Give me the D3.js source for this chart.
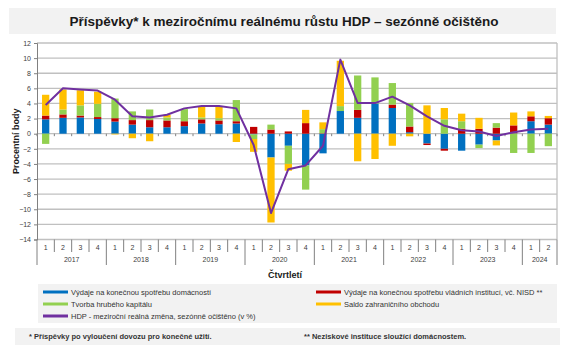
<!DOCTYPE html>
<html>
<head>
<meta charset="utf-8">
<script src="https://cdn.jsdelivr.net/npm/d3@7/dist/d3.min.js"></script>
<style>
  html, body { margin: 0; padding: 0; background: #fff; }
  svg { display: block; font-family: "Liberation Sans", Arial, sans-serif; }
</style>
</head>
<body>
<svg id="chart" width="565" height="346"></svg>
<script>
// Quarterly contributions (percentage points) to year-on-year real GDP growth, 2017Q1–2024Q2
const years = ["2017", "2018", "2019", "2020", "2021", "2022", "2023", "2024"];
const quarterLabels = ["1", "2", "3", "4"];

const household = [
  1.9, 2.1, 2.15, 1.95,
  1.6, 1.2, 0.85, 0.85,
  1.0, 1.35, 1.25, 1.35,
  -0.1, -3.15, -1.6, -4.2,
  -2.6, 3.0, 2.1, 4.0,
  3.4, 0.2, -1.3, -2.0,
  -2.25, -1.45, -0.9, 0.05,
  1.65, 1.2
];
const government = [
  0.5, 0.45, 0.25, 0.25,
  0.45, 0.6, 0.95, 0.9,
  0.65, 0.55, 0.5, 0.3,
  0.9, 0.55, 0.3, 1.4,
  0.05, 0.0, 1.05, 0.0,
  0.45, 0.75, -0.2, -0.25,
  0.65, 0.65, 0.8, 1.05,
  0.65, 0.85
];
const capital = [
  -1.35, 0.65, 1.35, 1.75,
  2.6, 1.15, 1.4, 0.4,
  1.6, 0.25, 0.3, 2.8,
  -0.6, 0.65, -2.4, -3.2,
  0.55, 0.65, 4.55, 3.45,
  2.85, 3.1, 0.0, 1.9,
  1.0, -0.45, 0.6, -2.55,
  -2.55, -1.65
];
const netExports = [
  2.75, 2.65, 2.0, 1.6,
  -0.1, -0.6, -1.0, 0.35,
  0.0, 1.4, 1.5, -1.1,
  -1.7, -8.6, -0.9, 1.75,
  0.9, 6.0, -3.65, -3.35,
  -1.6, -0.35, 3.75, 1.5,
  1.0, 1.45, -0.65, 1.7,
  0.65, 0.3
];
const gdp = [
  3.8, 6.0, 5.85, 5.7,
  4.5, 2.3, 2.15, 2.5,
  3.35, 3.65, 3.65, 3.35,
  -1.5, -10.5, -4.7, -4.2,
  -1.6, 9.8, 4.05, 4.05,
  4.9, 3.75, 2.3, 1.05,
  0.45, 0.3, -0.3, 0.2,
  0.55, 0.65
];
const yTicks = [12, 10, 8, 6, 4, 2, 0, -2, -4, -6, -8, -10, -12, -14];

const seriesNames = {
  household: "Výdaje na konečnou spotřebu domácností",
  government: "Výdaje na konečnou spotřebu vládních institucí, vč. NISD **",
  capital: "Tvorba hrubého kapitálu",
  netExports: "Saldo zahraničního obchodu",
  gdp: "HDP - meziroční reálná změna, sezónně očištěno (v %)"
};
const colors = {
  household: "#0070c0",
  government: "#c00000",
  capital: "#92d050",
  netExports: "#ffc000",
  gdp: "#7030a0"
};

// Build row table for stacking
const keys = ["household", "government", "capital", "netExports"];
const rows = gdp.map((g, i) => ({
  id: i,
  year: years[Math.floor(i / 4)],
  q: quarterLabels[i % 4],
  household: household[i],
  government: government[i],
  capital: capital[i],
  netExports: netExports[i],
  gdp: g
}));

const svg = d3.select("#chart");
const plot = { left: 37, right: 557, top: 43, bottom: 239.5 };

// Title band
svg.append("rect").attr("x", 9).attr("y", 8).attr("width", 547).attr("height", 26).attr("fill", "#f2f2f2");
svg.append("text").attr("x", 284).attr("y", 25.5).attr("text-anchor", "middle")
  .attr("font-size", 13.5).attr("font-weight", "bold").attr("fill", "#1a1a1a")
  .text("Příspěvky* k meziročnímu reálnému růstu HDP – sezónně očištěno");

const x = d3.scaleBand().domain(rows.map(d => d.id))
  .range([plot.left, plot.right]).paddingInner(0.58).paddingOuter(0.29);
const y = d3.scaleLinear().domain([-14, 12]).range([plot.bottom, plot.top]);
const step = x.step();

// Gridlines
svg.append("g").selectAll("line").data(yTicks).join("line")
  .attr("x1", plot.left).attr("x2", plot.right)
  .attr("y1", d => y(d)).attr("y2", d => y(d))
  .attr("stroke", "#c0c0c0").attr("stroke-width", 1.3);
// right border
svg.append("line").attr("x1", plot.right).attr("x2", plot.right)
  .attr("y1", plot.top).attr("y2", plot.bottom)
  .attr("stroke", "#c0c0c0").attr("stroke-width", 1.3);

// Y axis
const yAxis = svg.append("g").attr("transform", `translate(${plot.left},0)`)
  .call(d3.axisLeft(y).tickValues(yTicks).tickSize(3).tickPadding(3));
yAxis.select(".domain").attr("stroke", "#808080");
yAxis.selectAll(".tick line").attr("stroke", "#808080");
yAxis.selectAll(".tick text").attr("font-size", 7).attr("fill", "#404040")
  .attr("font-family", "Liberation Sans, Arial, sans-serif");

svg.append("text")
  .attr("transform", `translate(19,${(plot.top + plot.bottom) / 2}) rotate(-90)`)
  .attr("text-anchor", "middle").attr("font-size", 9).attr("font-weight", "bold")
  .attr("fill", "#1a1a1a").text("Procentní body");

// Small ticks along the zero line at category boundaries
svg.append("g").selectAll("line").data(d3.range(0, rows.length + 1)).join("line")
  .attr("x1", i => plot.left + i * step).attr("x2", i => plot.left + i * step)
  .attr("y1", y(0)).attr("y2", y(0) + 2.5)
  .attr("stroke", "#808080").attr("stroke-width", 1);

// Stacked bars (positive values stack upward, negative downward)
const stacked = d3.stack().keys(keys).offset(d3.stackOffsetDiverging)(rows);
svg.append("g").selectAll("g").data(stacked).join("g")
  .attr("fill", s => colors[s.key])
  .selectAll("rect").data(s => s).join("rect")
  .attr("x", d => x(d.data.id))
  .attr("width", x.bandwidth())
  .attr("y", d => y(Math.max(d[0], d[1])))
  .attr("height", d => Math.abs(y(d[0]) - y(d[1])));

// GDP line
const line = d3.line()
  .x(d => x(d.id) + x.bandwidth() / 2)
  .y(d => y(d.gdp));
svg.append("path").datum(rows).attr("d", line)
  .attr("fill", "none").attr("stroke", colors.gdp).attr("stroke-width", 2)
  .attr("stroke-linejoin", "round");

// Category axis: quarters and years
const axisG = svg.append("g");
axisG.selectAll("line.q").data(d3.range(0, rows.length + 1)).join("line")
  .attr("class", "q")
  .attr("x1", i => plot.left + i * step).attr("x2", i => plot.left + i * step)
  .attr("y1", plot.bottom)
  .attr("y2", i => (i % 4 === 0 || i === rows.length) ? 265 : 252)
  .attr("stroke", "#808080").attr("stroke-width", 1);
axisG.selectAll("text.q").data(rows).join("text")
  .attr("class", "q")
  .attr("x", d => x(d.id) + x.bandwidth() / 2).attr("y", 249.5)
  .attr("text-anchor", "middle").attr("font-size", 7).attr("fill", "#404040")
  .text(d => d.q);
axisG.selectAll("text.y").data(years).join("text")
  .attr("class", "y")
  .attr("x", (yr, k) => {
    const first = k * 4;
    const last = Math.min(first + 3, rows.length - 1);
    return (plot.left + first * step + plot.left + (last + 1) * step) / 2;
  })
  .attr("y", 262).attr("text-anchor", "middle").attr("font-size", 7).attr("fill", "#404040")
  .text(d => d);

svg.append("text").attr("x", 285).attr("y", 278).attr("text-anchor", "middle")
  .attr("font-size", 9).attr("font-weight", "bold").attr("fill", "#1a1a1a").text("Čtvrtletí");

// Legend
svg.append("rect").attr("x", 38).attr("y", 284).attr("width", 519).attr("height", 39).attr("fill", "#f2f2f2");
const legendItems = [
  { key: "household", x: 43, y: 292 },
  { key: "government", x: 316, y: 292 },
  { key: "capital", x: 43, y: 304 },
  { key: "netExports", x: 316, y: 304 },
  { key: "gdp", x: 43, y: 316 }
];
const lg = svg.append("g").selectAll("g").data(legendItems).join("g")
  .attr("transform", d => `translate(${d.x},${d.y})`);
lg.append("rect").attr("x", 0).attr("y", -1.5).attr("width", 25).attr("height", 3)
  .attr("fill", d => colors[d.key]);
lg.append("text").attr("x", 28).attr("y", 2.6).attr("font-size", 7.5).attr("fill", "#333")
  .text(d => seriesNames[d.key]);

// Footnotes
svg.append("rect").attr("x", 15).attr("y", 328).attr("width", 545).attr("height", 17).attr("fill", "#f2f2f2");
svg.append("text").attr("x", 29).attr("y", 339).attr("font-size", 7.5).attr("font-weight", "bold")
  .attr("fill", "#333").text("* Příspěvky po vyloučení dovozu pro konečné užití.");
svg.append("text").attr("x", 304).attr("y", 339).attr("font-size", 7.5).attr("font-weight", "bold")
  .attr("fill", "#333").text("** Neziskové instituce sloužící domácnostem.");
</script>
</body>
</html>
